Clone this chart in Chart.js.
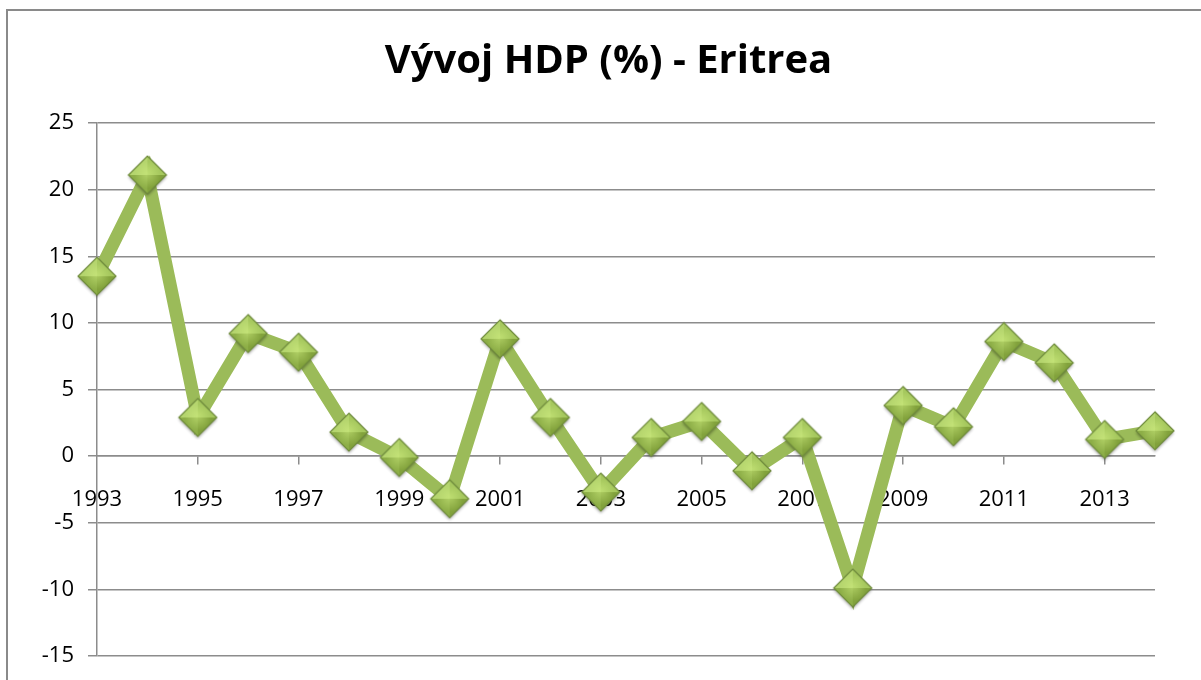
<!DOCTYPE html>
<html>
<head>
<meta charset="utf-8">
<script src="https://cdn.jsdelivr.net/npm/chart.js@4.4.1/dist/chart.umd.min.js"></script>
<style>
  html, body { margin: 0; padding: 0; background: #ffffff; overflow: hidden; }
  #wrap { position: relative; width: 1201px; height: 680px; overflow: hidden; }
  #frame { position: absolute; left: 6px; top: 9px; width: 1400px; height: 900px; border: 2px solid #8a8a8a; box-sizing: border-box; }
  #c { position: absolute; left: 0; top: 0; }
</style>
</head>
<body>
<div id="wrap">
  <div id="frame"></div>
  <canvas id="c" width="1201" height="688"></canvas>
</div>
<script>
const chartTitle = 'Vývoj HDP (%) - Eritrea';
const years = ['1993','1994','1995','1996','1997','1998','1999','2000','2001','2002','2003',
               '2004','2005','2006','2007','2008','2009','2010','2011','2012','2013','2014'];
const gdpGrowth = [13.5, 21.1, 2.9, 9.2, 7.8, 1.8, -0.1, -3.2, 8.8, 2.9, -2.7,
                   1.4, 2.6, -1.1, 1.4, -9.9, 3.8, 2.2, 8.6, 7.0, 1.25, 1.9];
const yMin = -15, yMax = 25, yStep = 5;

// beveled diamond marker image
function makeDiamond(r) {
  const pad = 4;
  const s = 2 * r + pad * 2;
  const cv = document.createElement('canvas');
  cv.width = s; cv.height = s;
  const g = cv.getContext('2d');
  const c = s / 2;
  const T = [c, c - r], R = [c + r, c], B = [c, c + r], L = [c - r, c], C = [c, c];
  g.save();
  g.shadowColor = 'rgba(0,0,0,0.35)';
  g.shadowBlur = 3;
  g.shadowOffsetY = 2;
  g.beginPath(); g.moveTo(...T); g.lineTo(...R); g.lineTo(...B); g.lineTo(...L); g.closePath();
  g.fillStyle = '#8fb24a'; g.fill();
  g.restore();
  const facet = (a, b, col) => { g.beginPath(); g.moveTo(...a); g.lineTo(...b); g.lineTo(...C); g.closePath(); g.fillStyle = col; g.fill(); };
  facet(T, L, '#b5d56e');
  facet(T, R, '#a6c85e');
  facet(R, B, '#82a23c');
  facet(B, L, '#8dae47');
  const rg = g.createRadialGradient(c, c - 2, 0, c, c, r * 0.7);
  rg.addColorStop(0, 'rgba(205,235,125,0.6)');
  rg.addColorStop(1, 'rgba(205,235,125,0)');
  g.beginPath(); g.moveTo(...T); g.lineTo(...R); g.lineTo(...B); g.lineTo(...L); g.closePath();
  g.fillStyle = rg; g.fill();
  g.lineWidth = 1.2; g.strokeStyle = '#6e8a3c'; g.stroke();
  return cv;
}
const diamond = makeDiamond(19);

const gridGray = '#8c8c8c';
const tickFont = { family: 'Open Sans', size: 22 };

new Chart(document.getElementById('c'), {
  type: 'line',
  data: {
    labels: years,
    datasets: [{
      data: gdpGrowth,
      borderColor: '#9bbb59',
      borderWidth: 13,
      pointStyle: diamond,
      pointRadius: 19,
      pointHoverRadius: 19,
      tension: 0,
      fill: false
    }]
  },
  options: {
    responsive: false,
    animation: false,
    events: [],
    layout: { padding: { left: 16, right: 0, top: 0, bottom: 8 } },
    plugins: {
      legend: { display: false },
      tooltip: { enabled: false },
      title: {
        display: true,
        text: chartTitle,
        color: '#000000',
        font: { family: 'Open Sans', size: 40, weight: 'bold', lineHeight: 1.2 },
        padding: { top: 38, bottom: 37 }
      }
    },
    scales: {
      x: {
        type: 'category',
        position: { y: 0 },
        offset: false,
        border: { display: true, color: gridGray, width: 1.5 },
        grid: {
          drawOnChartArea: false,
          drawTicks: true,
          tickLength: 8,
          lineWidth: 1.5,
          color: (ctx) => (ctx.index % 2 === 0 && ctx.index > 0) ? gridGray : 'rgba(0,0,0,0)'
        },
        ticks: {
          autoSkip: false,
          maxRotation: 0,
          minRotation: 0,
          padding: 22,
          color: '#000000',
          font: tickFont,
          callback: function(v, i) { return i % 2 === 0 ? years[i] : ''; }
        }
      },
      y: {
        min: yMin,
        max: yMax,
        afterFit: (scale) => { scale.width = 81; },
        border: { display: true, color: gridGray, width: 1.5 },
        grid: { color: gridGray, lineWidth: 1.5, tickLength: 9, drawTicks: true },
        ticks: {
          stepSize: yStep,
          padding: 14,
          color: '#000000',
          font: tickFont
        }
      },
      yRight: {
        position: 'right',
        min: yMin,
        max: yMax,
        afterFit: (scale) => { scale.width = 46; },
        border: { display: false },
        grid: { display: false, drawOnChartArea: false },
        ticks: { display: false }
      }
    }
  }
});
</script>
</body>
</html>
